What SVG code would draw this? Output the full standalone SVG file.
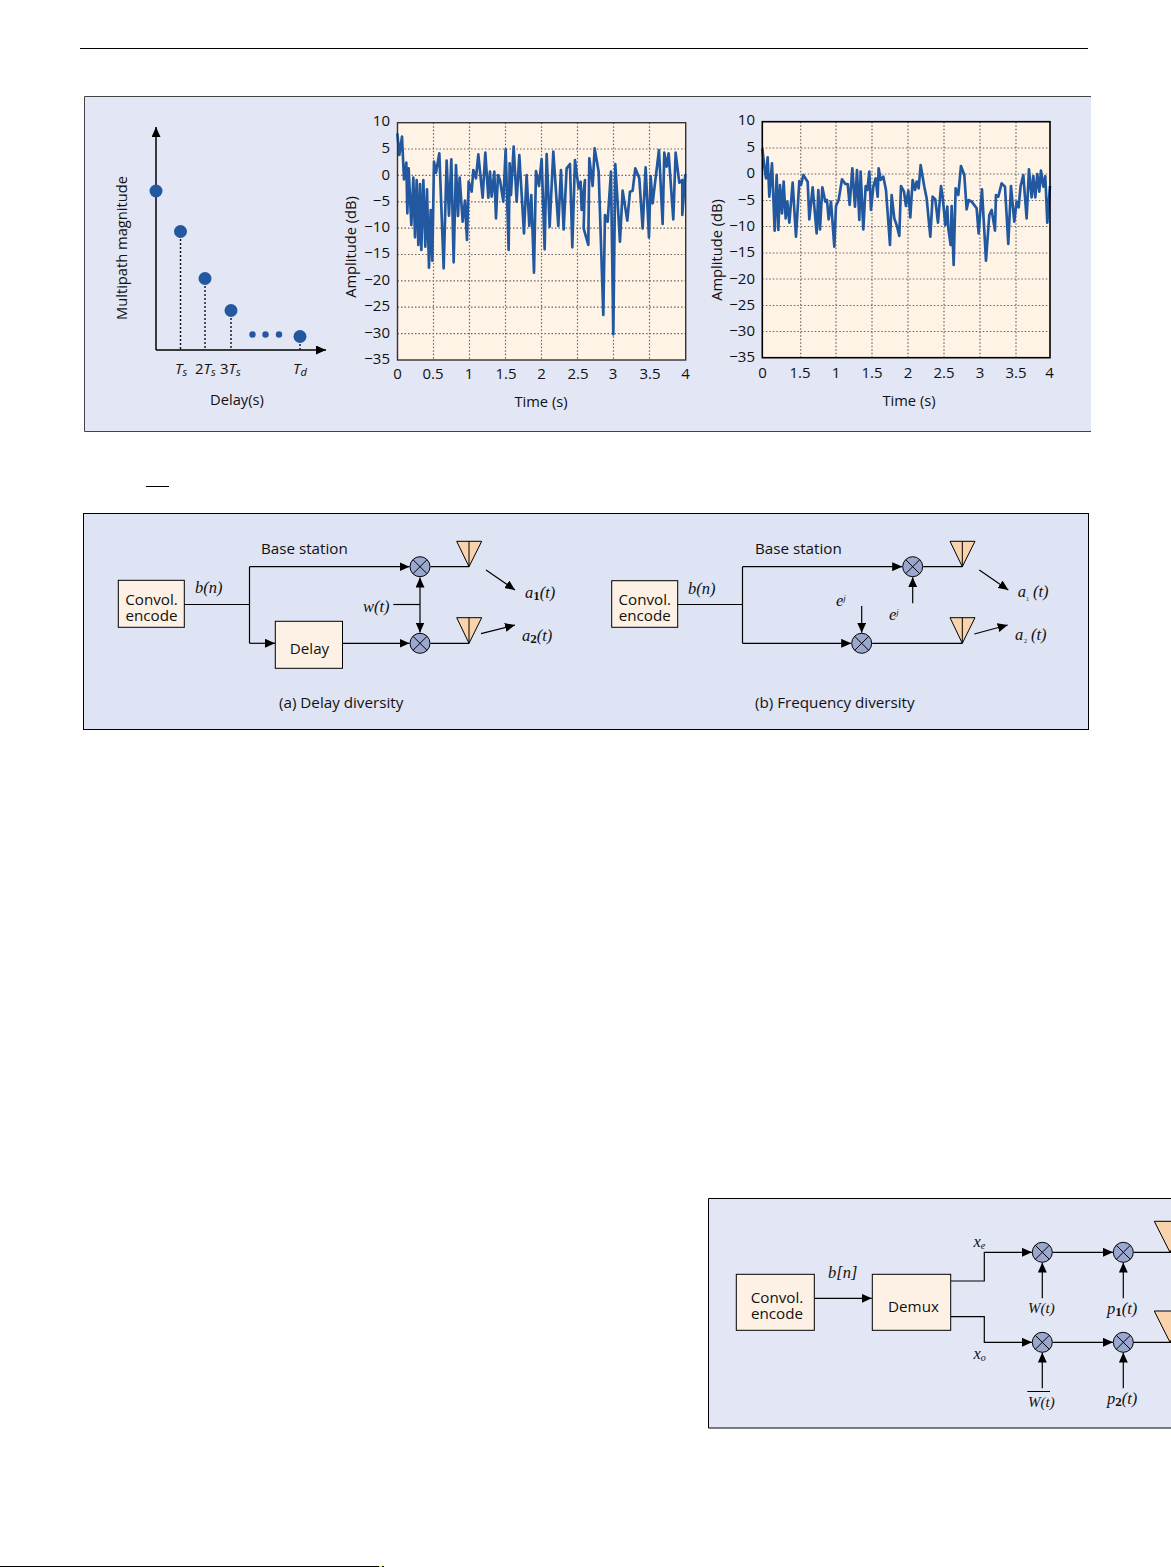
<svg xmlns="http://www.w3.org/2000/svg" width="1171" height="1567" viewBox="0 0 1171 1567">
<style>
text{font-family:"Open Sans","Noto Sans",sans-serif;font-size:15.2px;fill:#111}
.s{font-size:14.7px}
.m{font-family:"Liberation Serif",serif;font-style:italic;font-size:16.5px}
.w{font-size:15px}
.sb{font-size:11px}
.t{font-size:15px}
.r{text-anchor:end}
.c{text-anchor:middle}
.i{font-style:italic}
.bs{font-style:normal;font-weight:bold;font-size:13px}
.ln{fill:none;stroke:#000;stroke-width:1.2}
.axis{fill:none;stroke:#000;stroke-width:1.5}
.box{fill:#fdf1e5;stroke:#000;stroke-width:1}
.mul{fill:#9aa8d0;stroke:#000;stroke-width:1}
.x{stroke:#000;stroke-width:1;fill:none}
.ant{fill:#f9d3ab;stroke:#000;stroke-width:1}
.grid{fill:none;stroke:#666;stroke-width:1.2;stroke-dasharray:1.5 2}
.plot{fill:#fff3e6}
.curve{fill:none;stroke:#22589f;stroke-width:8;stroke-linejoin:round}
.dot{fill:#22589f}
.drop{stroke:#111;stroke-width:1.4;stroke-dasharray:2 2;fill:none}
</style>
<defs>
<marker id="a" markerUnits="userSpaceOnUse" markerWidth="10" markerHeight="9" refX="10" refY="4.5" orient="auto"><path d="M0 0L10 4.5L0 9Z" fill="#000"/></marker>
</defs>
<rect width="1171" height="1567" fill="#fff"/>
<g id="page-rules">
<path d="M80 48.500H1088" stroke="#000" stroke-width="1"/>
<path d="M146 486.500H169" stroke="#000" stroke-width="1"/>
<path d="M0 1566.500H379" stroke="#000" stroke-width="1"/>
<path d="M379 1566.500H382" stroke="#ee0" stroke-width="1"/>
<path d="M382 1566.500H384" stroke="#000" stroke-width="1"/>
</g>

<g id="panel-top">
<rect x="84.5" y="96.5" width="1006.5" height="335" fill="#e3e6f4"/>
<path d="M1091 96.5H84.5V431.5H1091" fill="none" stroke="#444" stroke-width="1"/>
</g>

<g id="chart-delay">
<path d="M156 350V127" class="axis" marker-end="url(#a)"/>
<path d="M156 350H326" class="axis" marker-end="url(#a)"/>
<path class="drop" d="M180.500 231V350M205 278V350M231 310V350M300 336V350"/>
<circle class="dot" cx="156" cy="191" r="6.5"/>
<circle class="dot" cx="180.500" cy="231.500" r="6.5"/>
<circle class="dot" cx="205" cy="278.500" r="6.5"/>
<circle class="dot" cx="231" cy="310.500" r="6.5"/>
<circle class="dot" cx="252.500" cy="334.500" r="3.2"/>
<circle class="dot" cx="265.500" cy="334.500" r="3.2"/>
<circle class="dot" cx="279" cy="334.500" r="3.2"/>
<circle class="dot" cx="300" cy="336.500" r="6.5"/>
<text class="c s" transform="translate(127 248) rotate(-90)">Multipath magnitude</text>
<text x="175" y="374" class="t"><tspan class="i">T</tspan><tspan class="i sb" dy="2">s</tspan></text>
<text x="195" y="374" class="t">2<tspan class="i">T</tspan><tspan class="i sb" dy="2">s</tspan></text>
<text x="220" y="374" class="t">3<tspan class="i">T</tspan><tspan class="i sb" dy="2">s</tspan></text>
<text x="293" y="374" class="t"><tspan class="i">T</tspan><tspan class="i sb" dy="2">d</tspan></text>
<text x="237" y="405" class="c s">Delay(s)</text>
</g>

<g id="chart-amplitude-1">
<rect class="plot" x="397.5" y="122.7" width="288.2" height="237.3"/>
<path class="grid" d="M433.500 122.700V360M469.500 122.700V360M505.500 122.700V360M541.500 122.700V360M577.500 122.700V360M613.500 122.700V360M649.500 122.700V360M397.500 149H685.700M397.500 175.400H685.700M397.500 201.800H685.700M397.500 228.100H685.700M397.500 254.500H685.700M397.500 280.900H685.700M397.500 307.200H685.700M397.500 333.600H685.700"/>
<polyline class="curve" transform="translate(340 100) scale(.3333)" points="172,100 178,165 186,110 192,238 199,188 202,340 206,205 214,375 220,233 225,412 230,240 235,435 240,252 244,450 250,240 256,440 261,268 267,503 272,330 277,482 282,185 288,218 298,160 311,505 320,182 327,347 334,178 341,487 348,195 354,348 359,233 368,365 375,302 381,420 386,245 395,275 400,210 408,235 415,163 428,293 436,158 445,293 450,215 455,290 463,215 468,355 474,225 480,240 490,305 497,148 506,450 509,190 513,285 521,140 530,305 538,165 552,400 560,225 568,378 574,285 582,518 588,213 597,258 605,177 614,448 620,162 629,380 640,155 655,378 663,210 671,388 680,205 690,192 697,442 705,180 716,265 722,245 725,330 735,240 731,385 745,435 748,175 758,258 764,145 776,215 790,645 795,345 803,365 813,215 820,703 826,192 840,425 848,272 862,362 870,275 878,272 886,205 898,235 908,385 917,202 927,412 932,228 938,310 945,250 957,150 968,372 973,158 980,200 986,160 1000,358 1007,158 1018,248 1027,240 1027,345 1036,222"/>
<rect x="397.5" y="122.7" width="288.2" height="237.3" fill="none" stroke="#333" stroke-width="1.4"/>
<text class="r t" x="390" y="126">10</text><text class="r t" x="390" y="153">5</text><text class="r t" x="390" y="179.500">0</text><text class="r t" x="390" y="205.500">−5</text><text class="r t" x="390" y="232">−10</text><text class="r t" x="390" y="258">−15</text><text class="r t" x="390" y="285">−20</text><text class="r t" x="390" y="311">−25</text><text class="r t" x="390" y="337.500">−30</text><text class="r t" x="390" y="364">−35</text>
<text class="c t" x="397.500" y="379">0</text><text class="c t" x="433" y="379">0.5</text><text class="c t" x="469" y="379">1</text><text class="c t" x="506" y="379">1.5</text><text class="c t" x="541.500" y="379">2</text><text class="c t" x="578" y="379">2.5</text><text class="c t" x="613" y="379">3</text><text class="c t" x="650" y="379">3.5</text><text class="c t" x="685.500" y="379">4</text>
<text class="c s" transform="translate(356 247) rotate(-90)">Amplitude (dB)</text>
<text class="c s" x="541" y="407">Time (s)</text>
</g>

<g id="chart-amplitude-2">
<rect class="plot" x="762.3" y="121.7" width="287.7" height="236"/>
<path class="grid" d="M800.700 121.700V357.700M836 121.700V357.700M872 121.700V357.700M908 121.700V357.700M944 121.700V357.700M980 121.700V357.700M1016 121.700V357.700M762.300 148H1050M762.300 174H1050M762.300 200.500H1050M762.300 226.500H1050M762.300 253H1050M762.300 279H1050M762.300 305.500H1050M762.300 331.500H1050"/>
<polyline class="curve" transform="translate(700 100) scale(.3333)" points="187,145 193,200 198,235 203,172 208,290 216,190 224,392 230,225 235,390 240,255 246,340 251,245 257,355 262,305 268,368 278,248 288,410 298,243 303,255 310,225 323,245 328,358 338,262 350,400 355,270 360,388 367,262 376,305 381,300 386,358 393,305 403,440 408,318 416,300 426,238 436,252 443,252 449,315 457,205 465,320 471,210 478,360 482,215 490,388 497,258 502,270 508,215 513,330 520,260 527,235 533,290 536,205 542,240 550,230 558,270 570,435 575,285 583,355 590,375 598,408 603,258 612,275 618,318 625,272 631,352 638,240 645,270 650,245 656,265 662,195 673,260 680,295 691,410 698,290 706,298 714,368 723,258 728,290 736,375 742,320 745,385 752,435 755,318 761,495 767,265 775,285 783,198 793,225 800,328 806,300 815,305 830,325 836,400 846,268 858,482 868,345 875,330 885,392 888,285 895,290 905,250 915,260 925,432 933,258 943,365 950,305 956,322 962,258 970,225 980,355 987,208 995,292 1000,228 1006,292 1012,222 1018,275 1023,212 1030,260 1036,228 1042,368 1050,258"/>
<rect x="762.3" y="121.7" width="287.7" height="236" fill="none" stroke="#000" stroke-width="1.6"/>
<text class="r t" x="755" y="125">10</text><text class="r t" x="755" y="152">5</text><text class="r t" x="755" y="178">0</text><text class="r t" x="755" y="204.500">−5</text><text class="r t" x="755" y="231">−10</text><text class="r t" x="755" y="257">−15</text><text class="r t" x="755" y="283.500">−20</text><text class="r t" x="755" y="309.500">−25</text><text class="r t" x="755" y="336">−30</text><text class="r t" x="755" y="362">−35</text>
<text class="c t" x="762.500" y="377.500">0</text><text class="c t" x="800" y="377.500">1.5</text><text class="c t" x="836" y="377.500">1</text><text class="c t" x="872" y="377.500">1.5</text><text class="c t" x="908" y="377.500">2</text><text class="c t" x="944" y="377.500">2.5</text><text class="c t" x="980" y="377.500">3</text><text class="c t" x="1016" y="377.500">3.5</text><text class="c t" x="1049.500" y="377.500">4</text>
<text class="c s" transform="translate(722 250) rotate(-90)">Amplitude (dB)</text>
<text class="c s" x="909" y="406">Time (s)</text>
</g>

<g id="panel-middle"><rect x="83.5" y="513.5" width="1005" height="216" fill="#dfe4f4" stroke="#000" stroke-width="1"/></g>
<g id="panel-bottom">
<rect x="708.500" y="1198.500" width="462.500" height="229.500" fill="#e3e6f4"/>
<path d="M1171 1198.500H708.500V1428H1171" fill="none" stroke="#000" stroke-width="1"/>
</g>
<g id="c-ant1"><path class="ant" d="M1154.300 1221.300H1186L1170 1252.300Z"/></g>
<g id="c-ant2"><path class="ant" d="M1154.300 1311H1186L1170 1342.300Z"/></g>

<g id="connectors">
<path class="ln" d="M184 604.500H249.500M249.500 566.700V643.300"/>
<path class="ln" d="M249.500 566.700H409.500" marker-end="url(#a)"/>
<path class="ln" d="M249.500 643.300H275" marker-end="url(#a)"/>
<path class="ln" d="M342.500 643.300H409.500" marker-end="url(#a)"/>
<path class="ln" d="M393.300 604.500H420"/>
<path class="ln" d="M420 604.500V577.500" marker-end="url(#a)"/>
<path class="ln" d="M420 604.500V632.500" marker-end="url(#a)"/>
<path class="ln" d="M430.500 566.700H469M430.500 643.300H469"/>
<path class="ln" d="M486 570L515 590" marker-end="url(#a)"/>
<path class="ln" d="M481 633.700L515 625" marker-end="url(#a)"/>

<path class="ln" d="M677.700 604.500H742.500M742.500 566.700V643.300"/>
<path class="ln" d="M742.500 566.700H902.200" marker-end="url(#a)"/>
<path class="ln" d="M742.500 643.300H851.200" marker-end="url(#a)"/>
<path class="ln" d="M912.700 603.300V577.200" marker-end="url(#a)"/>
<path class="ln" d="M861.700 606V632.800" marker-end="url(#a)"/>
<path class="ln" d="M923.200 566.700H962.300M872.200 643.300H962.300"/>
<path class="ln" d="M979.300 570L1008.300 590" marker-end="url(#a)"/>
<path class="ln" d="M974.300 634L1007.700 625" marker-end="url(#a)"/>

<path class="ln" d="M814.300 1298.300H871.700" marker-end="url(#a)"/>
<path class="ln" d="M950.700 1281H984.300V1252.300H1032" marker-end="url(#a)"/>
<path class="ln" d="M950.700 1316.700H984.300V1342.300H1032" marker-end="url(#a)"/>
<path class="ln" d="M1052.600 1252.300H1113" marker-end="url(#a)"/>
<path class="ln" d="M1052.600 1342.300H1113" marker-end="url(#a)"/>
<path class="ln" d="M1133.600 1252.300H1171M1133.600 1342.300H1171"/>
<path class="ln" d="M1042.300 1298.300V1262.600" marker-end="url(#a)"/>
<path class="ln" d="M1123.300 1298.300V1262.600" marker-end="url(#a)"/>
<path class="ln" d="M1042.300 1388.300V1352.600" marker-end="url(#a)"/>
<path class="ln" d="M1123.300 1388.300V1352.600" marker-end="url(#a)"/>
</g>

<g id="a-encode"><rect class="box" x="118.300" y="580.300" width="66" height="47"/><text class="c" y="605"><tspan x="151.500">Convol.</tspan><tspan x="151.500" y="621">encode</tspan></text></g>
<g id="a-delay"><rect class="box" x="275.300" y="621.300" width="67.200" height="47"/><text class="c" x="309.500" y="654">Delay</text></g>
<g id="a-mul1"><circle class="mul" cx="420" cy="566.700" r="10"/><path class="x" d="M413 559.700L427 573.700M427 559.700L413 573.700"/></g>
<g id="a-mul2"><circle class="mul" cx="420" cy="643.300" r="10"/><path class="x" d="M413 636.300L427 650.300M427 636.300L413 650.300"/></g>
<g id="a-ant1"><path class="ant" d="M456.700 541.300H481.700L469 566.700ZM469 541.300V566.700"/></g>
<g id="a-ant2"><path class="ant" d="M456.700 617.700H481.700L469 643.300ZM469 617.700V643.300"/></g>
<g id="a-labels">
<text x="261" y="553.500">Base station</text>
<text class="m" x="195" y="592.700">b(n)</text>
<text class="m" x="363" y="611.500">w(t)</text>
<text class="m" x="525" y="597.500">a<tspan class="bs" dy="2">1</tspan><tspan dy="-2">(t)</tspan></text>
<text class="m" x="522" y="640.500">a<tspan class="bs" dy="2">2</tspan><tspan dy="-2">(t)</tspan></text>
<text x="279" y="708">(a) Delay diversity</text>
</g>

<g id="b-encode"><rect class="box" x="611.700" y="580.700" width="66" height="46.600"/><text class="c" y="605"><tspan x="644.800">Convol.</tspan><tspan x="644.800" y="621">encode</tspan></text></g>
<g id="b-mul1"><circle class="mul" cx="912.700" cy="566.700" r="10"/><path class="x" d="M905.700 559.700L919.700 573.700M919.700 559.700L905.700 573.700"/></g>
<g id="b-mul2"><circle class="mul" cx="861.700" cy="643.300" r="10"/><path class="x" d="M854.700 636.300L868.700 650.300M868.700 636.300L854.700 650.300"/></g>
<g id="b-ant1"><path class="ant" d="M950 541.300H975L962.300 566.700ZM962.300 541.300V566.700"/></g>
<g id="b-ant2"><path class="ant" d="M950 617.700H975L962.300 643.300ZM962.300 617.700V643.300"/></g>
<g id="b-labels">
<text x="755" y="553.700">Base station</text>
<text class="m" x="688" y="593.500">b(n)</text>
<text class="m" x="836" y="606">e<tspan font-size="9" dy="-5">j</tspan></text>
<text class="m" x="889" y="620">e<tspan font-size="9" dy="-5">j</tspan></text>
<text class="m" x="1017.700" y="597">a</text><text class="m" x="1026" y="601" style="font-size:6px;font-style:normal">1</text><text class="m" x="1033" y="597">(t)</text>
<text class="m" x="1015" y="639.500">a</text><text class="m" x="1024" y="643" style="font-size:6px;font-style:normal">2</text><text class="m" x="1031" y="639.500">(t)</text>
<text x="755" y="708">(b) Frequency diversity</text>
</g>

<g id="c-encode"><rect class="box" x="736.300" y="1274.300" width="78" height="56"/><text class="c" y="1303"><tspan x="777">Convol.</tspan><tspan x="777" y="1319.300">encode</tspan></text></g>
<g id="c-demux"><rect class="box" x="872.300" y="1274.300" width="78.400" height="56"/><text class="c" x="913.500" y="1311.500">Demux</text></g>
<g id="c-mul1"><circle class="mul" cx="1042.300" cy="1252.300" r="10"/><path class="x" d="M1035.300 1245.300L1049.300 1259.300M1049.300 1245.300L1035.300 1259.300"/></g>
<g id="c-mul2"><circle class="mul" cx="1123.300" cy="1252.300" r="10"/><path class="x" d="M1116.300 1245.300L1130.300 1259.300M1130.300 1245.300L1116.300 1259.300"/></g>
<g id="c-mul3"><circle class="mul" cx="1042.300" cy="1342.300" r="10"/><path class="x" d="M1035.300 1335.300L1049.300 1349.300M1049.300 1335.300L1035.300 1349.300"/></g>
<g id="c-mul4"><circle class="mul" cx="1123.300" cy="1342.300" r="10"/><path class="x" d="M1116.300 1335.300L1130.300 1349.300M1130.300 1335.300L1116.300 1349.300"/></g>
<g id="c-labels">
<text class="m" x="828" y="1277.500">b[n]</text>
<text class="m" x="973.500" y="1247">x<tspan font-size="10" dy="2">e</tspan></text>
<text class="m" x="973.500" y="1358.500">x<tspan font-size="10" dy="2">o</tspan></text>
<text class="m w" x="1028" y="1313.300">W(t)</text>
<text class="m w" x="1028" y="1407.300">W(t)</text>
<path d="M1027.300 1391.500H1050" stroke="#000" stroke-width="1"/>
<text class="m" x="1107" y="1313.500">p<tspan class="bs" dy="2">1</tspan><tspan dy="-2">(t)</tspan></text>
<text class="m" x="1107" y="1403.500">p<tspan class="bs" dy="2">2</tspan><tspan dy="-2">(t)</tspan></text>
</g>
</svg>
